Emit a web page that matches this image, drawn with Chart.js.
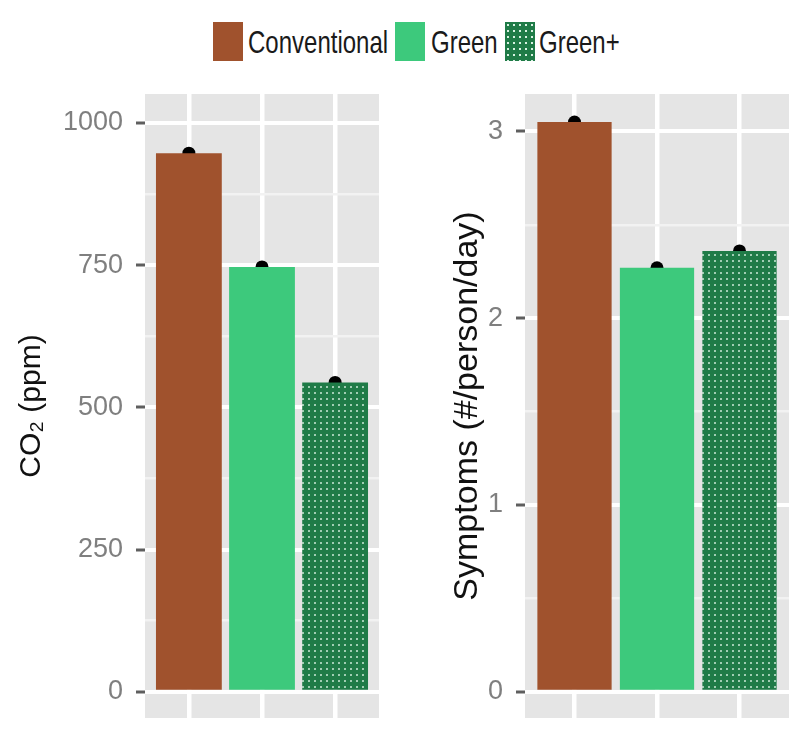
<!DOCTYPE html>
<html>
<head>
<meta charset="utf-8">
<script src="https://cdn.jsdelivr.net/npm/chart.js@4/dist/chart.umd.min.js"></script>
<style>
  html, body { margin:0; padding:0; background:#fff; }
  #wrap { position:relative; width:800px; height:738px; overflow:hidden; font-family:"Liberation Sans", Arial, sans-serif; }
  .panel { position:absolute; top:0; width:400px; height:738px; }
  .key { position:absolute; top:22px; width:30px; height:39px; }
  .lab { position:absolute; top:28px; font-size:24px; line-height:30px; color:#1a1a1a; transform:scaleY(1.28); transform-origin:left center; white-space:nowrap; }
</style>
</head>
<body>
<div id="wrap">
  <div class="key" style="left:213px;background:#A0522D"></div>
  <div class="lab" style="left:248px">Conventional</div>
  <div class="key" style="left:395px;background:#3DC97C"></div>
  <div class="lab" style="left:431px">Green</div>
  <div class="key" style="left:505px;background:radial-gradient(circle, #d8f2e2 0.9px, rgba(0,0,0,0) 1.4px) 0 0/6px 6px, #1F7B47"></div>
  <div class="lab" style="left:539px">Green+</div>
  <div class="panel" style="left:0"><canvas id="c1"></canvas></div>
  <div class="panel" style="left:400px"><canvas id="c2"></canvas></div>
</div>
<script>
// ---- data ----
const categories = ["Conventional", "Green", "Green+"];
const co2Values = [947, 747, 544];
const symptomValues = [3.05, 2.27, 2.36];
const co2MajorTicks = [0, 250, 500, 750, 1000];
const co2MinorTicks = [125, 375, 625, 875];
const symMajorTicks = [0, 1, 2, 3];
const symMinorTicks = [0.5, 1.5, 2.5];

// ---- styles ----
Chart.defaults.font.family = '"Liberation Sans", Arial, sans-serif';

function dotPattern() {
  const c = document.createElement('canvas');
  c.width = 6; c.height = 6;
  const g = c.getContext('2d');
  g.fillStyle = '#1F7B47';
  g.fillRect(0, 0, 6, 6);
  g.fillStyle = '#d8f2e2';
  g.beginPath(); g.arc(3, 3, 0.95, 0, Math.PI * 2); g.fill();
  return g.createPattern(c, 'repeat');
}
const barColors = ['#A0522D', '#3DC97C', dotPattern()];

const panelBg = {
  id: 'panelBg',
  beforeDraw(chart) {
    const {ctx, chartArea: a} = chart;
    ctx.save();
    ctx.fillStyle = '#E5E5E5';
    ctx.fillRect(a.left, a.top, a.right - a.left, a.bottom - a.top);
    ctx.restore();
  }
};

function makeChart(id, values, majors, minors, yMin, yMax, title, titleSize, axisWidth, padRight, titlePad) {
  const allTicks = majors.concat(minors).sort((a, b) => a - b);
  const xs = categories.map((_, i) => i + 1);
  return new Chart(document.getElementById(id), {
    type: 'bar',
    data: {
      datasets: [
        {
          type: 'bar',
          order: 0,
          data: values.map((v, i) => ({x: xs[i], y: v})),
          backgroundColor: barColors,
          borderWidth: 0,
          barPercentage: 0.9,
          categoryPercentage: 1.0
        },
        {
          type: 'scatter',
          order: 1,
          data: values.map((v, i) => ({x: xs[i], y: v})),
          pointRadius: 6.5,
          pointBackgroundColor: '#000',
          pointBorderWidth: 0,
          borderWidth: 0
        }
      ]
    },
    options: {
      responsive: true,
      maintainAspectRatio: false,
      animation: false,
      events: [],
      layout: { padding: { top: 94, right: padRight, bottom: 0, left: 0 } },
      plugins: { legend: { display: false }, tooltip: { enabled: false } },
      scales: {
        x: {
          type: 'linear',
          min: 0.4,
          max: 3.6,
          offset: false,
          afterBuildTicks: s => { s.ticks = xs.map(v => ({value: v})); },
          afterFit: s => { s.height = 20; s.paddingLeft = 0; s.paddingRight = 0; },
          ticks: { display: false },
          border: { display: false },
          grid: { offset: false, color: '#ffffff', lineWidth: 4.5, drawTicks: false }
        },
        y: {
          type: 'linear',
          min: yMin,
          max: yMax,
          afterBuildTicks: s => { s.ticks = allTicks.map(v => ({value: v})); },
          afterFit: s => { s.width = axisWidth; s.paddingTop = 0; s.paddingBottom = 0; },
          border: { display: false },
          ticks: {
            autoSkip: false,
            padding: 13,
            color: '#7F7F7F',
            font: { size: 27 },
            callback: v => majors.includes(v) ? String(v) : ''
          },
          grid: {
            color: c => (c.tick && majors.includes(c.tick.value)) ? '#ffffff' : '#F2F2F2',
            lineWidth: c => (c.tick && majors.includes(c.tick.value)) ? 4 : 2.5,
            tickColor: c => (c.tick && majors.includes(c.tick.value)) ? '#5f5f5f' : 'rgba(0,0,0,0)',
            tickLength: 9,
            tickWidth: 3
          },
          title: {
            display: true,
            text: title,
            color: '#111',
            font: { size: titleSize },
            padding: { top: titlePad, bottom: 0 }
          }
        }
      }
    },
    plugins: [panelBg]
  });
}

makeChart('c1', co2Values, co2MajorTicks, co2MinorTicks, -46, 1051, 'CO\u2082 (ppm)', 30, 145, 21, 14);
makeChart('c2', symptomValues, symMajorTicks, symMinorTicks, -0.14, 3.2, 'Symptoms (#/person/day)', 34, 125, 11, 47);
</script>
</body>
</html>
